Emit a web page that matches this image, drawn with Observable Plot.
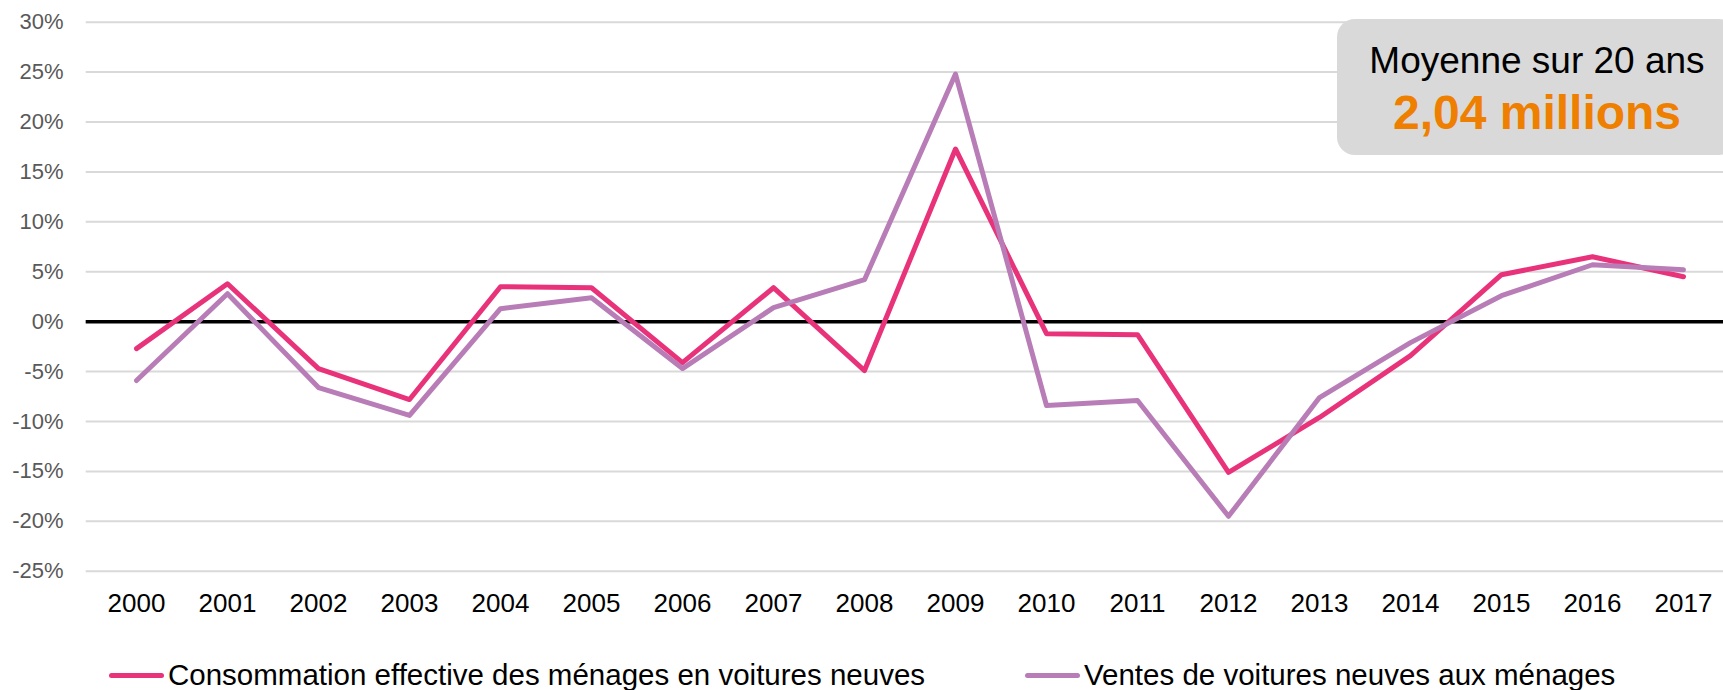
<!DOCTYPE html>
<html>
<head>
<meta charset="utf-8">
<script src="https://cdn.jsdelivr.net/npm/d3@7"></script>
<script src="https://cdn.jsdelivr.net/npm/@observablehq/plot@0.6"></script>
<style>
  body { margin: 0; background: #fff; font-family: "Liberation Sans", Arial, sans-serif; }
  #wrap { position: relative; width: 1723px; height: 690px; overflow: hidden; }
  #chart svg { display: block; }
  .box { position: absolute; left: 1337px; top: 19px; width: 400px; height: 136px;
         background: #d9d9d9; border-radius: 18px; }
  .box .l1 { position: absolute; left: 0; width: 400px; padding-left: 0px; box-sizing: border-box;
             text-align: center; top: 23px; font-size: 37px; line-height: 37px; color: #000; }
  .box .l2 { position: absolute; left: 0; width: 400px; padding-left: 0px; box-sizing: border-box;
             text-align: center; top: 70px; font-size: 48px; line-height: 48px; font-weight: bold; color: #EE7F00; }
  .leg { position: absolute; top: 659px; height: 32px; display: flex; align-items: center;
         font-size: 29.5px; line-height: 32px; color: #000; white-space: nowrap; }
  .leg .sw { width: 55px; height: 5px; border-radius: 3px; margin-right: 4px; }
</style>
</head>
<body>
<div id="wrap">
  <div id="chart"></div>
</div>
<script>
const years = [2000, 2001, 2002, 2003, 2004, 2005, 2006, 2007, 2008, 2009, 2010, 2011, 2012, 2013, 2014, 2015, 2016, 2017];
const consommation = [-2.7, 3.8, -4.7, -7.8, 3.5, 3.4, -4.1, 3.4, -4.9, 17.3, -1.2, -1.3, -15.1, -9.6, -3.4, 4.7, 6.5, 4.5];
const ventes = [-5.9, 2.8, -6.6, -9.4, 1.3, 2.4, -4.7, 1.4, 4.2, 24.8, -8.4, -7.9, -19.5, -7.6, -2.1, 2.6, 5.7, 5.2];
const yTicks = [-25, -20, -15, -10, -5, 0, 5, 10, 15, 20, 25, 30];
const seriesNames = ["Consommation effective des ménages en voitures neuves", "Ventes de voitures neuves aux ménages"];
const seriesColors = ["#E8337A", "#B87DB7"];
const boxTitle = "Moyenne sur 20 ans";
const boxValue = "2,04 millions";

const rowsC = years.map((y, i) => ({year: y, value: consommation[i]}));
const rowsV = years.map((y, i) => ({year: y, value: ventes[i]}));

const chart = Plot.plot({
  width: 1723,
  height: 640,
  marginLeft: 85.7,
  marginRight: 0,
  marginTop: 21.7,
  marginBottom: 69.3,
  style: { fontFamily: "'Liberation Sans', Arial, sans-serif", background: "#fff" },
  x: { type: "point", domain: years, range: [130.5, 1687.7], padding: 0, axis: null },
  y: { domain: [-25, 30], axis: null },
  marks: [
    Plot.ruleY(yTicks, { stroke: "#d9d9d9", strokeWidth: 2 }),
    Plot.ruleY([0], { stroke: "#000", strokeWidth: 3.5 }),
    Plot.line(rowsC, { x: "year", y: "value", stroke: seriesColors[0], strokeWidth: 5, strokeLinejoin: "round", strokeLinecap: "round" }),
    Plot.line(rowsV, { x: "year", y: "value", stroke: seriesColors[1], strokeWidth: 5, strokeLinejoin: "round", strokeLinecap: "round" }),
    Plot.axisY(yTicks, { tickSize: 0, tickPadding: 22.7, tickFormat: d => d + "%", fontSize: 22, color: "#595959", label: null }),
    Plot.axisX(years, { tickSize: 0, tickPadding: 22.5, tickFormat: d => String(d), fontSize: 26, color: "#000", label: null })
  ]
});
document.getElementById("chart").appendChild(chart);

const wrap = document.getElementById("wrap");
const box = document.createElement("div");
box.className = "box";
box.innerHTML = `<div class="l1"></div><div class="l2"></div>`;
box.querySelector(".l1").textContent = boxTitle;
box.querySelector(".l2").textContent = boxValue;
wrap.appendChild(box);

const legLefts = [109, 1025];
seriesNames.forEach((name, i) => {
  const item = document.createElement("div");
  item.className = "leg";
  item.style.left = legLefts[i] + "px";
  const sw = document.createElement("div");
  sw.className = "sw";
  sw.style.background = seriesColors[i];
  const tx = document.createElement("span");
  tx.textContent = name;
  item.appendChild(sw);
  item.appendChild(tx);
  wrap.appendChild(item);
});
</script>
</body>
</html>
